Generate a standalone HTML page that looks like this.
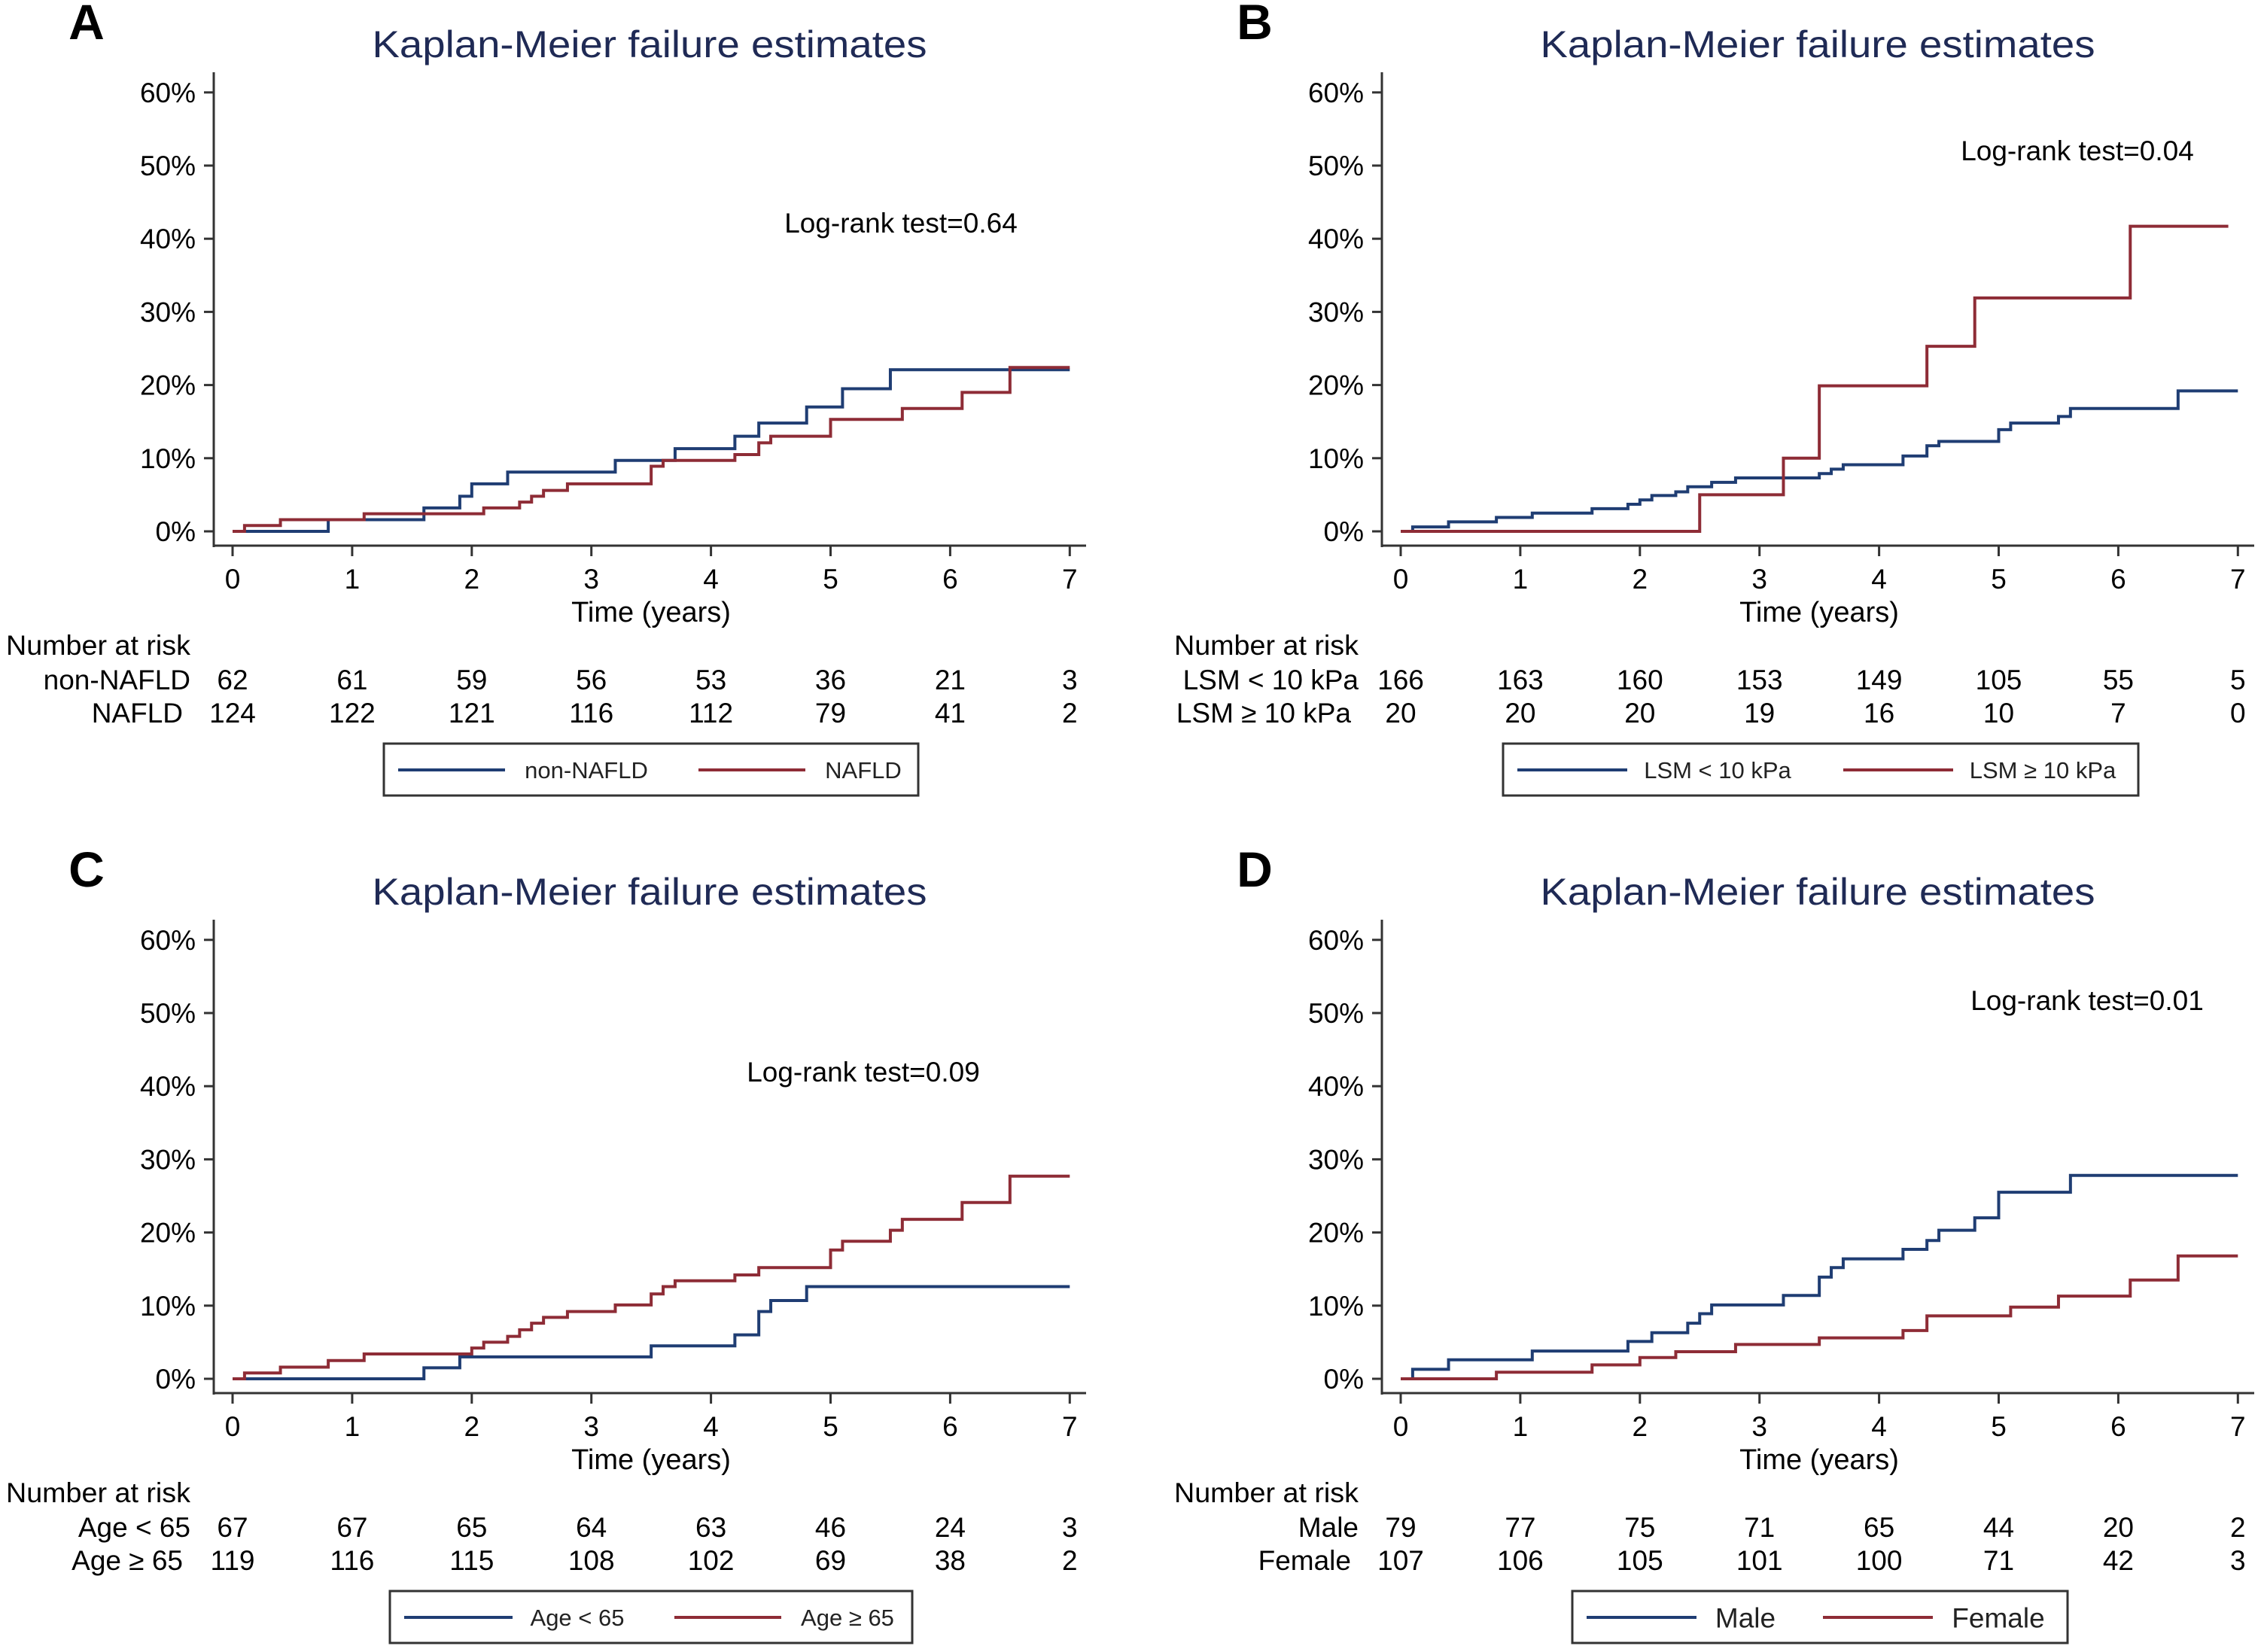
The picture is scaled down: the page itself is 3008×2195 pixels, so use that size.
<!DOCTYPE html>
<html><head><meta charset="utf-8">
<style>html,body{margin:0;padding:0;background:#fff}svg{display:block}</style>
</head><body>
<svg id="fig" xmlns="http://www.w3.org/2000/svg" width="3008" height="2195" viewBox="0 0 3008 2195" font-family="'Liberation Sans', sans-serif"></svg>
<script>
// ---- data ----
const yTicks = [0,10,20,30,40,50,60];
const xTicks = [0,1,2,3,4,5,6,7];
// Panel A
const aBlueT = [0,0.8,1.6,1.9,2.0,2.3,3.2,3.7,4.2,4.4,4.8,5.1,5.5];
const aBlueP = [0,1.6,3.2,4.8,6.5,8.1,9.7,11.3,13.0,14.8,17.0,19.5,22.1];
const aRedT = [0,0.1,0.4,1.1,2.1,2.4,2.5,2.6,2.8,3.5,3.6,4.2,4.4,4.5,5.0,5.6,6.1,6.5];
const aRedP = [0,0.8,1.6,2.4,3.2,4.0,4.8,5.6,6.5,8.9,9.7,10.5,12.1,13.0,15.3,16.8,19.0,22.4];
const aRisk1 = [62,61,59,56,53,36,21,3];
const aRisk2 = [124,122,121,116,112,79,41,2];
// Panel B
const bBlueT = [0,0.1,0.4,0.8,1.1,1.6,1.9,2.0,2.1,2.3,2.4,2.6,2.8,3.5,3.6,3.7,4.2,4.4,4.5,5.0,5.1,5.5,5.6,6.5];
const bBlueP = [0,0.6,1.3,1.9,2.5,3.1,3.7,4.3,4.9,5.4,6.1,6.7,7.3,7.9,8.5,9.1,10.3,11.7,12.3,13.9,14.8,15.7,16.8,19.2];
const bRedT = [0,2.5,3.2,3.5,4.4,4.8,6.1];
const bRedP = [0,5.0,10.0,19.9,25.3,31.9,41.7];
const bRisk1 = [166,163,160,153,149,105,55,5];
const bRisk2 = [20,20,20,19,16,10,7,0];
// Panel C
const cBlueT = [0,1.6,1.9,3.5,4.2,4.4,4.5,4.8];
const cBlueP = [0,1.5,3.0,4.5,6.0,9.2,10.7,12.6];
const cRedT = [0,0.1,0.4,0.8,1.1,2.0,2.1,2.3,2.4,2.5,2.6,2.8,3.2,3.5,3.6,3.7,4.2,4.4,5.0,5.1,5.5,5.6,6.1,6.5];
const cRedP = [0,0.8,1.6,2.5,3.4,4.2,5.0,5.8,6.7,7.6,8.4,9.2,10.1,11.6,12.6,13.4,14.2,15.2,17.6,18.8,20.3,21.8,24.1,27.7];
const cRisk1 = [67,67,65,64,63,46,24,3];
const cRisk2 = [119,116,115,108,102,69,38,2];
// Panel D
const dBlueT = [0,0.1,0.4,1.1,1.9,2.1,2.4,2.5,2.6,3.2,3.5,3.6,3.7,4.2,4.4,4.5,4.8,5.0,5.6];
const dBlueP = [0,1.3,2.6,3.8,5.1,6.3,7.6,8.9,10.1,11.4,13.9,15.2,16.4,17.7,18.9,20.3,22.0,25.5,27.8];
const dRedT = [0,0.8,1.6,2.0,2.3,2.8,3.5,4.2,4.4,5.1,5.5,6.1,6.5];
const dRedP = [0,0.9,1.9,2.9,3.7,4.7,5.6,6.6,8.6,9.8,11.3,13.5,16.8];
const dRisk1 = [79,77,75,71,65,44,20,2];
const dRisk2 = [107,106,105,101,100,71,42,3];

const BLUE = '#1f3d73', RED = '#8e2c36', NAVY = '#1f2a55';
const NS = 'http://www.w3.org/2000/svg';
const svg = document.getElementById('fig');

function mk(tag, attrs, parent, text) {
  const e = document.createElementNS(NS, tag);
  for (const k in attrs) e.setAttribute(k, attrs[k]);
  if (text !== undefined) e.textContent = text;
  parent.appendChild(e);
  return e;
}

const panels = [
  {id:'a', letter:'A', dx:0, dy:0, bT:aBlueT, bP:aBlueP, rT:aRedT, rP:aRedP, r1:aRisk1, r2:aRisk2,
   n1:'non-NAFLD', n2:'NAFLD', lr:'Log-rank test=0.64', lrx:1197, lry:296,
   leg:[510,1220], legL:[529,671,779,928,1070,1147], legFs:31},
  {id:'b', letter:'B', dx:1552, dy:0, bT:bBlueT, bP:bBlueP, rT:bRedT, rP:bRedP, r1:bRisk1, r2:bRisk2,
   n1:'LSM < 10 kPa', n2:'LSM ≥ 10 kPa', lr:'Log-rank test=0.04', lrx:1208, lry:200,
   leg:[445,1289], legL:[464,610,730,897,1043,1162], legFs:31},
  {id:'c', letter:'C', dx:0, dy:1126, bT:cBlueT, bP:cBlueP, rT:cRedT, rP:cRedP, r1:cRisk1, r2:cRisk2,
   n1:'Age < 65', n2:'Age ≥ 65', lr:'Log-rank test=0.09', lrx:1147, lry:298,
   leg:[518,1212], legL:[537,681,767,896,1038,1126], legFs:31},
  {id:'d', letter:'D', dx:1552, dy:1126, bT:dBlueT, bP:dBlueP, rT:dRedT, rP:dRedP, r1:dRisk1, r2:dRisk2,
   n1:'Male', n2:'Female', lr:'Log-rank test=0.01', lrx:1221, lry:203,
   leg:[537,1195], legL:[556,702,767,870,1016,1103], legFs:37}
];

function xs(t){ return 309 + t * 158.9; }
function ys(p){ return 706 - p * 9.72; }

function stepPath(T, P, tEnd) {
  let d = 'M' + xs(T[0]) + ' ' + ys(P[0]);
  for (let i = 1; i < T.length; i++) {
    d += ' H' + xs(T[i]) + ' V' + ys(P[i]);
  }
  d += ' H' + xs(tEnd);
  return d;
}

panels.forEach(pn => {
  const g = mk('g', {transform:'translate(' + pn.dx + ',' + pn.dy + ')'}, svg);
  
  

  const lt = mk('text', {x:115, y:52, 'font-size':66, 'font-weight':'bold', 'text-anchor':'middle', fill:'#000'}, g, pn.letter);
  
  

  const ti = mk('text', {x:863, y:76, 'font-size':50, 'text-anchor':'middle', fill:NAVY, textLength:737, lengthAdjust:'spacingAndGlyphs'}, g, 'Kaplan-Meier failure estimates');
  
  

  // axes
  const ya = mk('line', {x1:284, y1:96, x2:284, y2:727, stroke:'#333', 'stroke-width':3}, g);
  
  
  const xa = mk('line', {x1:283, y1:725, x2:1443, y2:725, stroke:'#333', 'stroke-width':3}, g);
  
  

  yTicks.forEach(v => {
    const tk = mk('line', {x1:271, y1:ys(v), x2:284, y2:ys(v), stroke:'#333', 'stroke-width':3}, g);
    
    
    const tl = mk('text', {x:260, y:ys(v) + 13, 'font-size':37, 'text-anchor':'end', fill:'#000'}, g, v + '%');
    
    
  });
  xTicks.forEach(v => {
    const tk = mk('line', {x1:xs(v), y1:725, x2:xs(v), y2:739, stroke:'#333', 'stroke-width':3}, g);
    
    
    const tl = mk('text', {x:xs(v), y:782, 'font-size':37, 'text-anchor':'middle', fill:'#000'}, g, String(v));
    
    
  });
  const xt = mk('text', {x:865, y:826, 'font-size':38, 'text-anchor':'middle', fill:'#000'}, g, 'Time (years)');
  
  

  const lr = mk('text', {x:pn.lrx, y:pn.lry + 13, 'font-size':37, 'text-anchor':'middle', fill:'#000'}, g, pn.lr);
  
  

  // curves
  const cb = mk('path', {d:stepPath(pn.bT, pn.bP, 7), fill:'none', stroke:BLUE, 'stroke-width':4}, g);
  
  
  const cr = mk('path', {d:stepPath(pn.rT, pn.rP, pn.id === 'b' ? 6.92 : 7), fill:'none', stroke:RED, 'stroke-width':4}, g);
  
  

  // number at risk
  const nar = mk('text', {x:8, y:870, 'font-size':37, fill:'#000', textLength:245, lengthAdjust:'spacingAndGlyphs'}, g, 'Number at risk');
  
  
  const l1 = mk('text', {x:253, y:916, 'font-size':37, 'text-anchor':'end', fill:'#000'}, g, pn.n1);
  
  
  const l2 = mk('text', {x:243, y:960, 'font-size':37, 'text-anchor':'end', fill:'#000'}, g, pn.n2);
  
  
  pn.r1.forEach((v, i) => {
    const t = mk('text', {x:xs(xTicks[i]), y:916, 'font-size':37, 'text-anchor':'middle', fill:'#000'}, g, String(v));
    
    
  });
  pn.r2.forEach((v, i) => {
    const t = mk('text', {x:xs(xTicks[i]), y:960, 'font-size':37, 'text-anchor':'middle', fill:'#000'}, g, String(v));
    
    
  });

  // legend
  const lg = mk('g', {}, g);
  
  
  mk('rect', {x:pn.leg[0], y:988, width:pn.leg[1] - pn.leg[0], height:69, fill:'#fff', stroke:'#333', 'stroke-width':3}, lg);
  const L = pn.legL;
  const e1 = mk('line', {x1:L[0], y1:1023, x2:L[1], y2:1023, stroke:BLUE, 'stroke-width':4}, lg);
  
  
  const t1 = mk('text', {x:L[2], y:1023 + pn.legFs * 0.36, 'font-size':pn.legFs, 'text-anchor':'middle', fill:'#222'}, lg, pn.n1);
  
  
  const e2 = mk('line', {x1:L[3], y1:1023, x2:L[4], y2:1023, stroke:RED, 'stroke-width':4}, lg);
  
  
  const t2 = mk('text', {x:L[5], y:1023 + pn.legFs * 0.36, 'font-size':pn.legFs, 'text-anchor':'middle', fill:'#222'}, lg, pn.n2);
  
  
});
</script>
</body></html>
